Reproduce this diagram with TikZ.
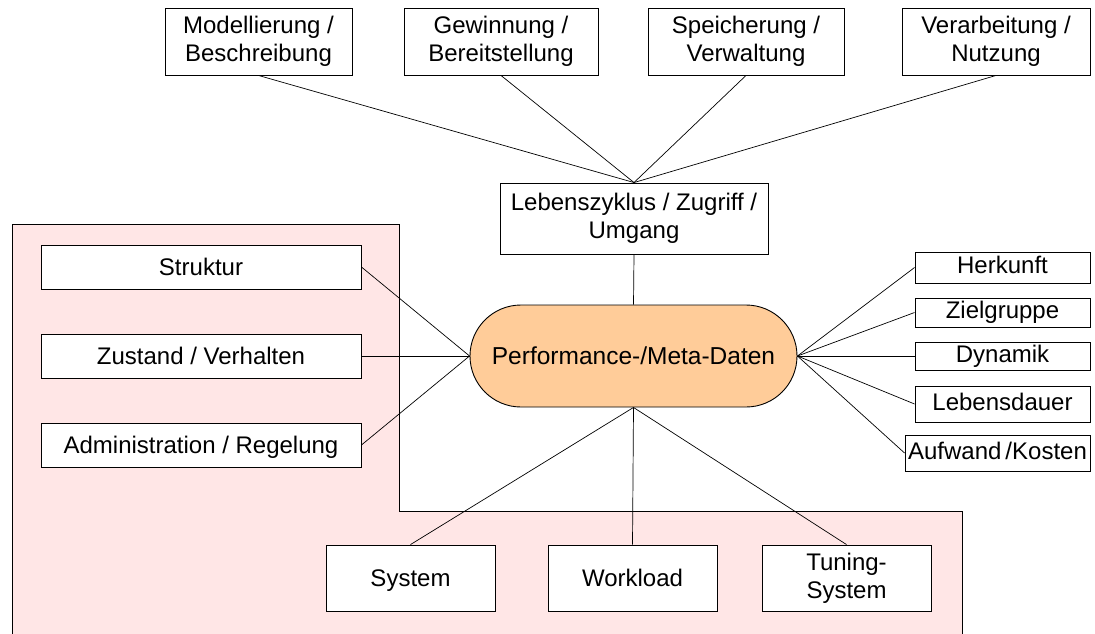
\documentclass[tikz,border=0pt]{standalone}
\usepackage{fontspec}
\setmainfont{Liberation Sans}
\usetikzlibrary{shapes.misc}
\definecolor{zonefill}{HTML}{FFE6E6}
\definecolor{corefill}{HTML}{FFCC99}
\begin{document}
\begin{tikzpicture}[x=1pt,y=-1pt,
  frame/.style={draw, line width=0.9pt, fill=white, inner sep=0pt,
    font=\fontsize{24}{28}\selectfont},
  box/.style={frame, align=center},
  one/.style={frame, text height=17.3pt, text depth=0pt},
  tag/.style={frame, text height=17.3pt, text depth=4.8pt},
  core/.style={draw, line width=0.9pt, fill=corefill, rounded rectangle, inner sep=0pt,
    font=\fontsize{24.5}{28}\selectfont, text height=17.6pt, text depth=1pt},
  link/.style={line width=0.7pt}]
\useasboundingbox (0,0) rectangle (1095,633);
\begin{scope}
  \clip (0,0) rectangle (1095,633);
  % shaded zone behind the left and lower groups
  \draw[line width=0.9pt, fill=zonefill]
    (12,224) -- (399,224) -- (399,511) -- (962,511) -- (962,640) -- (12,640) -- cycle;
\end{scope}

% top row
\node[box, minimum width=187, minimum height=67] (mod) at (258.5,41.5) {Modellierung /\\Beschreibung};
\node[box, minimum width=194, minimum height=67] (gew) at (501,41.5) {Gewinnung /\\Bereitstellung};
\node[box, minimum width=196, minimum height=67] (spe) at (746,41.5) {Speicherung /\\Verwaltung};
\node[box, minimum width=188, minimum height=67] (ver) at (996,41.5) {Verarbeitung /\\Nutzung};

% life cycle node
\node[box, minimum width=268, minimum height=71] (lz) at (634,218.5) {Lebenszyklus / Zugriff /\\Umgang};

% central node
\node[core, minimum width=327, minimum height=102] (pm) at (633.5,356) {Performance-/Meta-Daten};

% left group
\node[one, minimum width=320, minimum height=44] (str) at (201,267) {Struktur};
\node[one, minimum width=320, minimum height=44] (zus) at (201,356) {Zustand / Verhalten};
\node[one, minimum width=320, minimum height=44] (adm) at (201,445) {Administration / Regelung};

% right group
\node[tag, minimum width=175, minimum height=31] (her) at (1002.5,267.5) {Herkunft};
\node[tag, minimum width=175, minimum height=29] (zie) at (1002.5,312.5) {Zielgruppe};
\node[tag, minimum width=175, minimum height=28] (dyn) at (1002.5,356) {Dynamik};
\node[tag, minimum width=175, minimum height=36] (led) at (1002.5,404) {Lebensdauer};
\node[tag, minimum width=185, minimum height=36] (auf) at (997.5,453) {Aufwand\,/Kosten};

% bottom group
\node[one, minimum width=169, minimum height=66] (sys) at (410.5,578) {System};
\node[one, minimum width=169, minimum height=66] (wl) at (632.5,578) {Workload};
\node[box, minimum width=169, minimum height=66] (tun) at (846.5,578) {Tuning-\\System};

% connectors
\foreach \n in {mod,gew,spe,ver} \draw[link] (\n.south) -- (lz.north);
\draw[link] (lz.south) -- (pm.north);
\foreach \n in {str,zus,adm} \draw[link] (\n.east) -- (pm.west);
\foreach \n in {her,zie,dyn,led,auf} \draw[link] (pm.east) -- (\n.west);
\foreach \n in {sys,wl,tun} \draw[link] (pm.south) -- (\n.north);
\end{tikzpicture}
\end{document}
